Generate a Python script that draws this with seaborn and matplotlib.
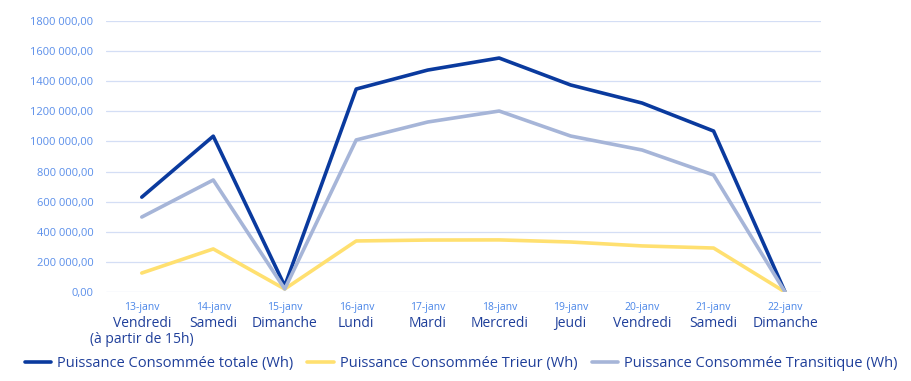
import matplotlib
matplotlib.use("Agg")
import matplotlib.pyplot as plt
import matplotlib.transforms as mtransforms
import pandas as pd
import seaborn as sns

dates = ["13-janv", "14-janv", "15-janv", "16-janv", "17-janv",
         "18-janv", "19-janv", "20-janv", "21-janv", "22-janv"]
days = ["Vendredi\n(à partir de 15h)", "Samedi", "Dimanche", "Lundi", "Mardi",
        "Mercredi", "Jeudi", "Vendredi", "Samedi", "Dimanche"]
totale = [630000, 1035000, 40000, 1348000, 1474000,
          1554000, 1375000, 1255000, 1069000, 0]
trieur = [126000, 286000, 20000, 339000, 345000,
          346000, 332000, 306000, 292000, 0]
transitique = [498000, 744000, 20000, 1010000, 1129000,
               1202000, 1036000, 943000, 777000, 0]
series_names = ["Puissance Consommée totale (Wh)",
                "Puissance Consommée Trieur (Wh)",
                "Puissance Consommée Transitique (Wh)"]
yticks = [0, 200000, 400000, 600000, 800000, 1000000,
          1200000, 1400000, 1600000, 1800000]

sns.set_style("white")
plt.rcParams["font.family"] = ["Open Sans", "DejaVu Sans"]

df = pd.DataFrame({"x": list(range(len(dates))) * 3,
                   "value": totale + trieur + transitique,
                   "serie": [s for s in series_names for _ in dates]})

colors = {series_names[0]: "#0A3A9E",
          series_names[1]: "#FFE070",
          series_names[2]: "#A6B5D8"}

fig = plt.figure(figsize=(9.11, 3.81), dpi=100)
ax = fig.add_axes([0.1164, 0.2336, 0.7846, 0.7113])

sns.lineplot(data=df, x="x", y="value", hue="serie", palette=colors,
             linewidth=2.6, ax=ax, legend=True)

ax.set_xlim(-0.5, len(dates) - 0.5)
ax.set_ylim(0, 1800000)
ax.set_yticks(yticks)


def fmt(v):
    s = f"{v:,.2f}".replace(",", " ").replace(".", ",")
    if v >= 1000000:
        s = s.replace(" ", "", 1)
    return s


ax.set_yticklabels([fmt(v) for v in yticks], color="#5B8FEA", fontsize=8)
ax.set_xticks(range(len(dates)))
ax.set_xticklabels(dates, color="#4A86E8", fontsize=7.5)
ax.tick_params(axis="both", length=0)
ax.tick_params(axis="x", pad=7)
ax.tick_params(axis="y", pad=9)
ax.grid(axis="y", color="#D4DEF5", linewidth=0.9)
ax.set_axisbelow(True)
for sp in ax.spines.values():
    sp.set_visible(False)
ax.set_xlabel("")
ax.set_ylabel("")

trans = mtransforms.blended_transform_factory(ax.transData, ax.transAxes)
for i, d in enumerate(days):
    ax.text(i, -0.088, d, transform=trans, ha="center", va="top",
            fontsize=10, color="#1F3F9A", linespacing=1.1)

handles, labels = ax.get_legend_handles_labels()
ax.legend(handles, labels, loc="center", ncol=3, frameon=False,
          fontsize=10.5, handlelength=1.8, handletextpad=0.4,
          columnspacing=1.0, labelcolor="#1F3F9A",
          bbox_to_anchor=(0.506, 0.045), bbox_transform=fig.transFigure)

fig.savefig("out.png", dpi=100)
